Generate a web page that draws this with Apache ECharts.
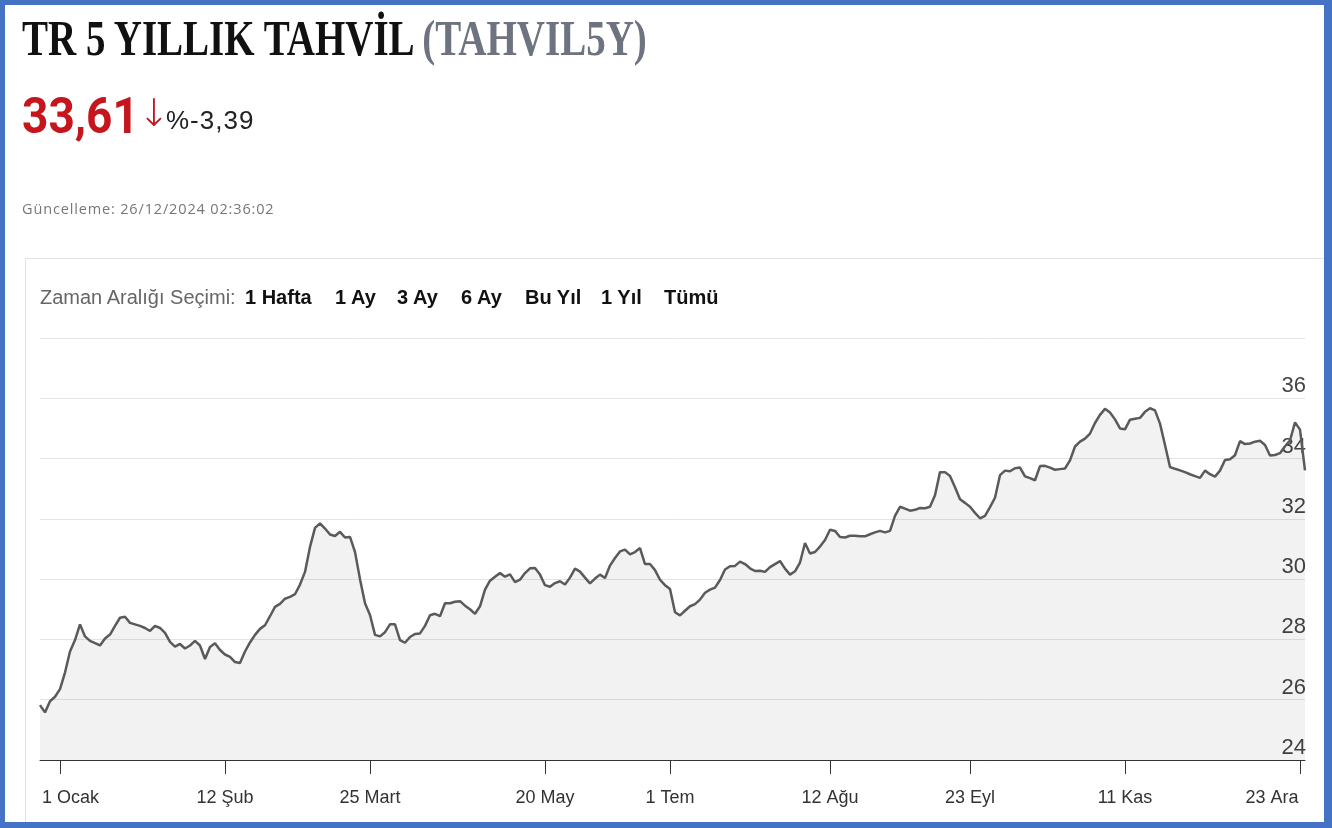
<!DOCTYPE html>
<html>
<head>
<meta charset="utf-8">
<script src="https://cdn.jsdelivr.net/npm/echarts/dist/echarts.min.js"></script>
<style>
html,body{margin:0;padding:0;background:#fff;}
body{width:1332px;height:828px;overflow:hidden;position:relative;font-family:"Liberation Sans",Arial,sans-serif;}
#frame{position:absolute;left:0;top:0;width:1332px;height:828px;box-sizing:border-box;border:5px solid #4472c4;border-right-width:8px;border-bottom-width:6px;z-index:5;pointer-events:none;}
#panel{position:absolute;left:25px;top:258px;width:1300px;height:570px;border-left:1px solid #e3e3e3;border-top:1px solid #e3e3e3;}
#chart{position:absolute;left:0;top:0;width:1332px;height:828px;}
.title{position:absolute;left:22px;top:13px;font-family:"Liberation Serif","Times New Roman",serif;font-weight:bold;font-size:50px;line-height:50px;white-space:nowrap;transform:scaleX(0.78);transform-origin:0 0;color:#111;}
.title span{color:#6e7380;}
.price{position:absolute;left:22px;top:91px;font-family:Roboto,"Liberation Sans",sans-serif;font-weight:bold;font-size:50px;line-height:50px;color:#c4161c;transform:scaleX(0.92);transform-origin:0 0;white-space:nowrap;}
.arrow{position:absolute;left:138px;top:90px;font-family:"DejaVu Sans",sans-serif;font-weight:300;font-size:38px;line-height:46px;color:#c4161c;}
.chg{position:absolute;left:166px;top:105px;font-family:"Liberation Sans",Arial,sans-serif;font-size:26px;line-height:30px;color:#222;letter-spacing:1px;white-space:nowrap;}
.upd{position:absolute;left:22px;top:200px;font-family:"Open Sans",sans-serif;font-size:14.5px;line-height:18px;color:#777;white-space:nowrap;letter-spacing:0.85px;}
.rng{position:absolute;top:285px;font-family:"Liberation Sans Narrow","Liberation Sans",sans-serif;font-size:20px;line-height:24px;white-space:nowrap;}
.rng.lab{color:#666;}
.rng.b{color:#111;font-weight:bold;}
</style>
</head>
<body>
<div id="panel"></div>
<div id="chart"></div>
<div class="title">TR 5 YILLIK TAHVİL <span>(TAHVIL5Y)</span></div>
<div class="price">33,61</div>
<div class="arrow">↓</div>
<div class="chg">%-3,39</div>
<div class="upd">Güncelleme: 26/12/2024 02:36:02</div>
<div class="rng lab" style="left:40px">Zaman Aralığı Seçimi:</div>
<div class="rng b" style="left:245px">1 Hafta</div>
<div class="rng b" style="left:335px">1 Ay</div>
<div class="rng b" style="left:397px">3 Ay</div>
<div class="rng b" style="left:461px">6 Ay</div>
<div class="rng b" style="left:525px">Bu Yıl</div>
<div class="rng b" style="left:601px">1 Yıl</div>
<div class="rng b" style="left:664px">Tümü</div>
<div id="frame"></div>
<script>
// Tick labels on the x axis and the data point index where each one sits
const tickLabels = ['1 Ocak', '12 Şub', '25 Mart', '20 May', '1 Tem', '12 Ağu', '23 Eyl', '11 Kas', '23 Ara'];
const tickIndex = [4, 37, 66, 101, 126, 158, 186, 217, 252];

// Y axis ticks
const yMin = 24, yMax = 38, yStep = 2;

// TR 5 year bond yield (%), trading-day points, end of Dec 2023 .. 25 Dec 2024
const values = [
  25.82, 25.58, 25.95, 26.10, 26.35, 26.90, 27.60, 27.98, 28.50, 28.10,
  27.95, 27.88, 27.80, 28.03, 28.16, 28.45, 28.72, 28.75, 28.55, 28.50,
  28.45, 28.38, 28.28, 28.45, 28.38, 28.22, 27.92, 27.76, 27.85, 27.70,
  27.80, 27.95, 27.80, 27.35, 27.75, 27.87, 27.65, 27.50, 27.42, 27.25,
  27.22, 27.60, 27.90, 28.15, 28.35, 28.47, 28.77, 29.08, 29.18, 29.35,
  29.41, 29.50, 29.82, 30.24, 31.07, 31.70, 31.85, 31.68, 31.48, 31.43,
  31.57, 31.38, 31.40, 30.90, 30.00, 29.20, 28.81, 28.15, 28.10, 28.24,
  28.50, 28.50, 27.98, 27.89, 28.08, 28.18, 28.20, 28.45, 28.80, 28.85,
  28.77, 29.20, 29.20, 29.25, 29.27, 29.12, 29.00, 28.85, 29.10, 29.65,
  29.95, 30.08, 30.20, 30.08, 30.16, 29.90, 29.98, 30.20, 30.36, 30.37,
  30.15, 29.80, 29.75, 29.87, 29.93, 29.82, 30.05, 30.35, 30.25, 30.05,
  29.86, 30.02, 30.15, 30.04, 30.45, 30.70, 30.92, 30.98, 30.82, 30.90,
  31.03, 30.50, 30.50, 30.30, 29.98, 29.80, 29.67, 28.90, 28.80, 28.95,
  29.10, 29.17, 29.32, 29.55, 29.65, 29.72, 29.97, 30.32, 30.43, 30.44,
  30.58, 30.50, 30.36, 30.27, 30.28, 30.24, 30.40, 30.50, 30.60, 30.35,
  30.15, 30.26, 30.55, 31.20, 30.85, 30.90, 31.08, 31.30, 31.64, 31.60,
  31.40, 31.38, 31.44, 31.44, 31.42, 31.42, 31.49, 31.55, 31.60, 31.55,
  31.60, 32.10, 32.40, 32.34, 32.27, 32.30, 32.36, 32.35, 32.40, 32.78,
  33.55, 33.55, 33.42, 33.05, 32.65, 32.53, 32.40, 32.20, 32.02, 32.10,
  32.39, 32.70, 33.45, 33.60, 33.58, 33.68, 33.70, 33.41, 33.35, 33.28,
  33.75, 33.76, 33.70, 33.63, 33.65, 33.67, 33.94, 34.40, 34.56, 34.66,
  34.83, 35.18, 35.45, 35.65, 35.53, 35.30, 35.00, 34.97, 35.29, 35.32,
  35.35, 35.55, 35.67, 35.60, 35.16, 34.45, 33.72, 33.66, 33.61, 33.55,
  33.48, 33.42, 33.36, 33.60, 33.48, 33.40, 33.60, 33.95, 33.98, 34.11,
  34.58, 34.48, 34.50, 34.56, 34.59, 34.45, 34.10, 34.12, 34.18, 34.41,
  34.60, 35.20, 34.96, 33.61
];

const categories = values.map((v, i) => String(i));
const isTick = (i) => tickIndex.indexOf(i) >= 0;

const chart = echarts.init(document.getElementById('chart'), null, {renderer: 'canvas'});
const labelFont = '"Liberation Sans", Arial, sans-serif';
chart.setOption({
  animation: false,
  backgroundColor: 'transparent',
  grid: {left: 40, right: 27, top: 338, bottom: 68, containLabel: false},
  xAxis: {
    type: 'category',
    boundaryGap: false,
    data: categories,
    z: 6,
    axisLine: {lineStyle: {color: '#333', width: 1}},
    axisTick: {show: true, interval: (i) => isTick(i), length: 14, lineStyle: {color: '#333', width: 1}},
    axisLabel: {
      interval: (i) => isTick(i),
      margin: 29,
      color: '#333',
      fontSize: 18,
      fontFamily: labelFont,
      formatter: (val, i) => {
        const k = tickIndex.indexOf(i);
        if (k < 0) return '';
        if (k === 0) return '{first|' + tickLabels[k] + '}';
        if (k === tickLabels.length - 1) return '{last|' + tickLabels[k] + '}';
        return tickLabels[k];
      },
      rich: {
        first: {padding: [0, 0, 0, 21], fontSize: 18, color: '#333', fontFamily: labelFont},
        last: {padding: [0, 56, 0, 0], fontSize: 18, color: '#333', fontFamily: labelFont}
      }
    },
    splitLine: {show: false}
  },
  yAxis: {
    type: 'value',
    position: 'right',
    min: yMin, max: yMax, interval: yStep,
    axisLine: {show: false},
    axisTick: {show: false},
    splitLine: {lineStyle: {color: '#e4e4e4', width: 1}},
    axisLabel: {
      inside: true,
      margin: -1,
      color: '#444',
      fontSize: 22,
      fontFamily: '"Liberation Sans Narrow", "Liberation Sans", sans-serif',
      verticalAlign: 'bottom',
      padding: [0, 0, 1, 0],
      formatter: (v) => (v === yMax ? '' : String(v))
    }
  },
  series: [{
    type: 'line',
    data: values,
    showSymbol: false,
    symbol: 'none',
    lineStyle: {color: '#5a5a5a', width: 2.5},
    areaStyle: {color: 'rgba(0,0,0,0.075)', origin: 'start'},
    z: 3
  }]
});
</script>
</body>
</html>
